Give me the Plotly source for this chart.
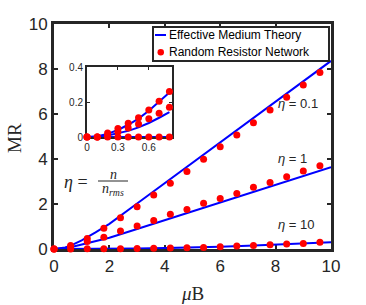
import plotly.graph_objects as go

# ---------------- data ----------------
# Random Resistor Network points (main panel)
B_rrn = [0, 0.6, 1.2, 1.8, 2.4, 3.0, 3.6, 4.2, 4.8, 5.4, 6.0, 6.6, 7.2, 7.8, 8.4, 9.0, 9.6]
rrn_eta01 = [0, 0.155, 0.47, 0.92, 1.39, 1.88, 2.40, 2.92, 3.44, 3.99, 4.55, 5.07, 5.61, 6.18, 6.74, 7.29, 7.85]
rrn_eta1 = [0, 0.105, 0.33, 0.52, 0.80, 1.02, 1.27, 1.54, 1.76, 2.03, 2.25, 2.47, 2.74, 2.96, 3.21, 3.47, 3.70]
rrn_eta10 = [0, 0.003, 0.006, 0.01, 0.015, 0.02, 0.03, 0.04, 0.06, 0.07, 0.10, 0.13, 0.16, 0.19, 0.22, 0.25, 0.30]

# Effective Medium Theory curves (main panel)
B_emt = [0, 0.2, 0.4, 0.6, 0.8, 1.0, 1.5, 2, 3, 4, 5, 6, 7, 8, 9, 10]
emt_eta01 = [0, 0.02, 0.07, 0.15, 0.255, 0.38, 0.74, 1.12, 2.02, 2.92, 3.82, 4.72, 5.62, 6.52, 7.44, 8.36]
emt_eta1 = [0, 0.009, 0.035, 0.08, 0.142, 0.20, 0.34, 0.50, 0.89, 1.28, 1.68, 2.07, 2.46, 2.86, 3.25, 3.64]
emt_eta10 = [0, 0.0, 0.001, 0.002, 0.003, 0.005, 0.01, 0.015, 0.025, 0.04, 0.06, 0.10, 0.14, 0.19, 0.24, 0.30]

# Inset (low field)
B_in = [0, 0.1, 0.2, 0.3, 0.4, 0.5, 0.6, 0.7, 0.8]
rrn_in_eta01 = [0, 0, 0.023, 0.049, 0.078, 0.11, 0.155, 0.204, 0.26]
rrn_in_eta1 = [0, 0, 0.008, 0.03, 0.052, 0.074, 0.105, 0.136, 0.17]
rrn_in_eta10 = [0, 0, 0, 0, 0, 0, 0, 0, 0]
emt_in_eta01 = [0, 0.004, 0.018, 0.04, 0.07, 0.105, 0.15, 0.2, 0.255]
emt_in_eta1 = [0, 0.002, 0.009, 0.02, 0.035, 0.055, 0.08, 0.11, 0.142]
emt_in_eta10 = [0, 0, 0, 0, 0, 0, 0, 0, 0]

main_ticks = [0, 2, 4, 6, 8, 10]
inset_xticks = [0, 0.3, 0.6]
inset_yticks = [0, 0.2, 0.4]

legend_labels = ["Effective Medium Theory", "Random Resistor Network"]
eta_labels = ["<i>η</i> = 0.1", "<i>η</i> = 1", "<i>η</i> = 10"]
x_title = "<i>μ</i>B"
y_title = "MR"

BLUE = "#0000ff"
RED = "#ff0000"
W, H = 366, 305
L, R, T, Bm = 54, 35, 24, 56
PW, PH = W - L - R, H - T - Bm


def px(x):
    return (x - L) / PW


def py(y):
    return (H - Bm - y) / PH


fig = go.Figure()

for ys in (emt_eta01, emt_eta1, emt_eta10):
    fig.add_trace(go.Scatter(x=B_emt, y=ys, mode="lines", line=dict(color=BLUE, width=2),
                             showlegend=False, cliponaxis=False, xaxis="x", yaxis="y"))
for ys in (rrn_eta01, rrn_eta1, rrn_eta10):
    fig.add_trace(go.Scatter(x=B_rrn, y=ys, mode="markers", marker=dict(color=RED, size=7),
                             showlegend=False, cliponaxis=False, xaxis="x", yaxis="y"))

for ys in (emt_in_eta01, emt_in_eta1, emt_in_eta10):
    fig.add_trace(go.Scatter(x=B_in, y=ys, mode="lines", line=dict(color=BLUE, width=2),
                             showlegend=False, cliponaxis=False, xaxis="x2", yaxis="y2"))
for ys in (rrn_in_eta01, rrn_in_eta1, rrn_in_eta10):
    fig.add_trace(go.Scatter(x=B_in, y=ys, mode="markers", marker=dict(color=RED, size=7),
                             showlegend=False, cliponaxis=False, xaxis="x2", yaxis="y2"))

axis_common = dict(showgrid=False, zeroline=False, showline=True, linecolor="#262626",
                   mirror="ticks", ticks="inside", tickcolor="#262626",
                   layer="below traces", automargin=False)

ix0, ix1 = px(87), px(172)
iy0, iy1 = py(137), py(67)

fig.update_layout(
    width=W, height=H, margin=dict(l=L, r=R, t=T, b=Bm, autoexpand=False),
    paper_bgcolor="white", plot_bgcolor="white",
    font=dict(family="Liberation Sans, Arial, sans-serif", color="#262626"),
    xaxis=dict(axis_common, range=[0, 10], tickvals=main_ticks, linewidth=3, ticklen=4,
               tickwidth=1.5, tickfont=dict(size=17), domain=[0, 1]),
    yaxis=dict(axis_common, range=[0, 10], tickvals=main_ticks, linewidth=3, ticklen=4,
               tickwidth=1.5, tickfont=dict(size=17), domain=[0, 1]),
    xaxis2=dict(axis_common, range=[0, 0.825], tickvals=inset_xticks, ticktext=["0", "0.3", "0.6"],
                linewidth=2, ticklen=3, tickfont=dict(size=10), domain=[ix0, ix1], anchor="y2"),
    yaxis2=dict(axis_common, range=[0, 0.4], tickvals=inset_yticks, ticktext=["0", "0.2", "0.4"],
                linewidth=2, ticklen=3, tickfont=dict(size=10), domain=[iy0, iy1], anchor="x2"),
)

shapes = []
annotations = []
serif = "Liberation Serif, Times New Roman, serif"

# axis titles
annotations.append(dict(text=x_title, xref="paper", yref="paper", x=px(192), y=py(293), xanchor="center",
                        yanchor="middle", showarrow=False, font=dict(size=19, family=serif, color="#262626")))
annotations.append(dict(text=y_title, xref="paper", yref="paper", x=px(14), y=py(138), xanchor="center",
                        yanchor="middle", showarrow=False, textangle=-90,
                        font=dict(size=19, family=serif, color="#262626")))

# manual legend
shapes.append(dict(type="rect", xref="paper", yref="paper", x0=px(153), x1=px(329), y0=py(61), y1=py(27),
                   line=dict(color="#262626", width=2), fillcolor="white", layer="above"))
shapes.append(dict(type="line", xref="paper", yref="paper", x0=px(155), x1=px(166), y0=py(35), y1=py(35),
                   line=dict(color=BLUE, width=2), layer="above"))
shapes.append(dict(type="circle", xref="paper", yref="paper", x0=px(157.5), x1=px(164), y0=py(55.5), y1=py(49),
                   line=dict(color=RED, width=0), fillcolor=RED, layer="above"))
for lab, yy in zip(legend_labels, (35, 52)):
    annotations.append(dict(text=lab, xref="paper", yref="paper", x=px(167), y=py(yy), xanchor="left",
                            yanchor="middle", showarrow=False, font=dict(size=12, color="black")))

# eta labels
for lab, yy in zip(eta_labels, (103, 158, 224)):
    annotations.append(dict(text=lab, xref="paper", yref="paper", x=px(276), y=py(yy), xanchor="left",
                            yanchor="middle", showarrow=False,
                            font=dict(size=13, color="#262626", family="Liberation Sans, Arial, sans-serif")))

# eta = n / n_rms
annotations.append(dict(text="<i>η</i> =", xref="paper", yref="paper", x=px(62), y=py(182), xanchor="left",
                        yanchor="middle", showarrow=False, font=dict(size=18, family=serif, color="#262626")))
annotations.append(dict(text="<i>n</i>", xref="paper", yref="paper", x=px(113), y=py(174), xanchor="center",
                        yanchor="middle", showarrow=False, font=dict(size=14, family=serif, color="#262626")))
annotations.append(dict(text="<i>n<sub>rms</sub></i>", xref="paper", yref="paper", x=px(113), y=py(189),
                        xanchor="center", yanchor="middle", showarrow=False,
                        font=dict(size=14, family=serif, color="#262626")))
shapes.append(dict(type="line", xref="paper", yref="paper", x0=px(98), x1=px(128), y0=py(181), y1=py(181),
                   line=dict(color="#262626", width=1)))

fig.update_layout(shapes=shapes, annotations=annotations)
fig.write_html("out.html", config={"displayModeBar": False},
               post_script="document.body.style.margin='0px';")
